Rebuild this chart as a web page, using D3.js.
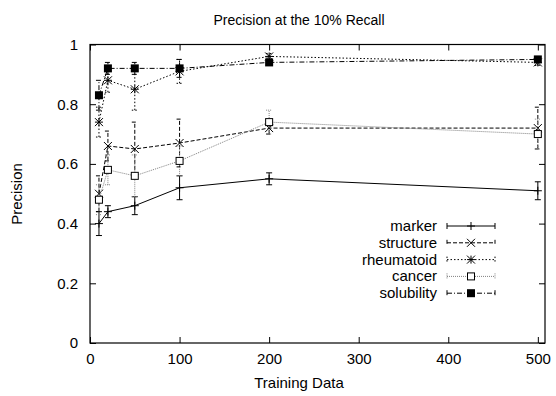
<!DOCTYPE html>
<html>
<head>
<meta charset="utf-8">
<script src="https://cdn.jsdelivr.net/npm/d3@7"></script>
<style>
  body { margin: 0; background: #fff; }
  text { font-family: "Liberation Sans", Arial, sans-serif; fill: #000; }
</style>
</head>
<body>
<svg id="chart" width="556" height="396"></svg>
<script>
// training sizes
var trainSizes = [10, 20, 50, 100, 200, 500];

// precision per series, and error (half height of bar)
var markerVals = [0.40, 0.44, 0.46, 0.52, 0.55, 0.51];
var markerErr = [0.04, 0.02, 0.03, 0.04, 0.02, 0.03];
var structureVals = [0.50, 0.66, 0.65, 0.67, 0.72, 0.72];
var structureErr = [0.06, 0.05, 0.09, 0.08, 0.02, 0.07];
var rheumatoidVals = [0.74, 0.88, 0.85, 0.91, 0.96, 0.94];
var rheumatoidErr = [0.05, 0.04, 0.07, 0.04, 0.01, 0.01];
var cancerVals = [0.48, 0.58, 0.56, 0.61, 0.74, 0.70];
var cancerErr = [0.05, 0.05, 0.07, 0.05, 0.04, 0.05];
var solubilityVals = [0.83, 0.92, 0.92, 0.92, 0.94, 0.95];
var solubilityErr = [0.05, 0.02, 0.02, 0.03, 0.01, 0.01];

var xTicks = [0, 100, 200, 300, 400, 500];
var yTicks = [0, 0.2, 0.4, 0.6, 0.8, 1];

var series = [
  { name: "marker", vals: markerVals, err: markerErr, dash: null, color: "#000", sym: "plus" },
  { name: "structure", vals: structureVals, err: structureErr, dash: "4,2", color: "#000", sym: "cross" },
  { name: "rheumatoid", vals: rheumatoidVals, err: rheumatoidErr, dash: "1.5,2", color: "#000", sym: "star" },
  { name: "cancer", vals: cancerVals, err: cancerErr, dash: "1,1", color: "#808080", sym: "box" },
  { name: "solubility", vals: solubilityVals, err: solubilityErr, dash: "5,2,1,2", color: "#000", sym: "fbox" }
];

var plotL = 90, plotR = 545, plotT = 44.5, plotB = 343;

var x = d3.scaleLinear().domain([0, 508]).range([plotL, plotR]);
var y = d3.scaleLinear().domain([0, 1]).range([plotB, plotT]);

var svg = d3.select("#chart");

// frame
svg.append("rect")
  .attr("x", plotL).attr("y", plotT)
  .attr("width", plotR - plotL).attr("height", plotB - plotT)
  .attr("fill", "none").attr("stroke", "#000").attr("stroke-width", 1.2);

// axes, inner ticks, mirrored
var tl = 6;
svg.append("g").attr("transform", "translate(0," + plotB + ")")
  .call(d3.axisBottom(x).tickValues(xTicks).tickSize(-tl).tickPadding(10))
  .call(function(g){ g.select(".domain").remove(); });
svg.append("g").attr("transform", "translate(0," + plotT + ")")
  .call(d3.axisTop(x).tickValues(xTicks).tickSize(-tl).tickFormat(""))
  .call(function(g){ g.select(".domain").remove(); });
svg.append("g").attr("transform", "translate(" + plotL + ",0)")
  .call(d3.axisLeft(y).tickValues(yTicks).tickSize(-tl).tickPadding(12).tickFormat(d3.format("")))
  .call(function(g){ g.select(".domain").remove(); });
svg.append("g").attr("transform", "translate(" + plotR + ",0)")
  .call(d3.axisRight(y).tickValues(yTicks).tickSize(-tl).tickFormat(""))
  .call(function(g){ g.select(".domain").remove(); });

svg.selectAll(".tick text").attr("font-size", 15).attr("font-family", "Liberation Sans, Arial, sans-serif");
svg.selectAll(".tick line").attr("stroke-width", 1);

// titles
svg.append("text").attr("x", 299).attr("y", 25).attr("text-anchor", "middle")
  .attr("font-size", 14).text("Precision at the 10% Recall");
svg.append("text").attr("x", 299).attr("y", 388).attr("text-anchor", "middle")
  .attr("font-size", 15).text("Training Data");
svg.append("text").attr("transform", "translate(22,194) rotate(-90)").attr("text-anchor", "middle")
  .attr("font-size", 15).text("Precision");

function drawSym(g, sym, cx, cy, color) {
  var s = 4;
  if (sym === "plus") {
    g.append("path").attr("d", "M" + (cx - s) + "," + cy + "H" + (cx + s) + "M" + cx + "," + (cy - s) + "V" + (cy + s))
      .attr("stroke", color).attr("stroke-width", 1);
  } else if (sym === "cross") {
    g.append("path").attr("d", "M" + (cx - s) + "," + (cy - s) + "L" + (cx + s) + "," + (cy + s) + "M" + (cx - s) + "," + (cy + s) + "L" + (cx + s) + "," + (cy - s))
      .attr("stroke", color).attr("stroke-width", 1);
  } else if (sym === "star") {
    g.append("path").attr("d", "M" + (cx - s) + "," + (cy - s) + "L" + (cx + s) + "," + (cy + s) + "M" + (cx - s) + "," + (cy + s) + "L" + (cx + s) + "," + (cy - s) +
      "M" + (cx - s) + "," + cy + "H" + (cx + s) + "M" + cx + "," + (cy - s) + "V" + (cy + s))
      .attr("stroke", color).attr("stroke-width", 1);
  } else if (sym === "box") {
    g.append("rect").attr("x", cx - 3.5).attr("y", cy - 3.5).attr("width", 7).attr("height", 7)
      .attr("fill", "#fff").attr("stroke", "#000").attr("stroke-width", 1);
  } else if (sym === "fbox") {
    g.append("rect").attr("x", cx - 4).attr("y", cy - 4).attr("width", 8).attr("height", 8)
      .attr("fill", "#000");
  }
}

var line = d3.line().x(function(d){ return x(d[0]); }).y(function(d){ return y(d[1]); });

series.forEach(function(s) {
  var g = svg.append("g");
  var pts = trainSizes.map(function(t, i){ return [t, s.vals[i], s.err[i]]; });
  // error bars
  pts.forEach(function(p) {
    var px = x(p[0]), y0 = y(p[1] - p[2]), y1 = y(p[1] + p[2]);
    g.append("path")
      .attr("d", "M" + px + "," + y0 + "V" + y1 + "M" + (px - 3) + "," + y0 + "H" + (px + 3) + "M" + (px - 3) + "," + y1 + "H" + (px + 3))
      .attr("stroke", s.color).attr("fill", "none").attr("stroke-width", 1)
      .attr("stroke-dasharray", s.dash);
  });
  g.append("path").datum(pts).attr("d", line)
    .attr("fill", "none").attr("stroke", s.color).attr("stroke-width", 1)
    .attr("stroke-dasharray", s.dash);
  pts.forEach(function(p) { drawSym(g, s.sym, x(p[0]), y(p[1]), s.color); });
});

// legend
var legTop = 226, legStep = 16.8, lx0 = 447, lx1 = 495;
series.forEach(function(s, i) {
  var ly = legTop + i * legStep;
  var g = svg.append("g");
  g.append("text").attr("x", 437).attr("y", ly + 5).attr("text-anchor", "end")
    .attr("font-size", 15).text(s.name);
  g.append("path").attr("d", "M" + lx0 + "," + ly + "H" + lx1 + "M" + lx0 + "," + (ly - 3) + "V" + (ly + 3) + "M" + lx1 + "," + (ly - 3) + "V" + (ly + 3))
    .attr("stroke", s.color).attr("stroke-width", 1).attr("fill", "none")
    .attr("stroke-dasharray", s.dash);
  drawSym(g, s.sym, (lx0 + lx1) / 2, ly, s.color);
});
</script>
</body>
</html>
